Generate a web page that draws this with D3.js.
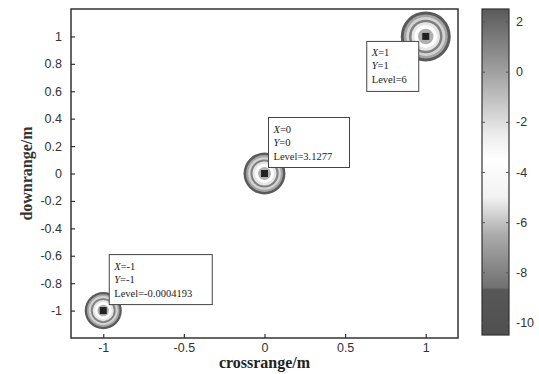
<!DOCTYPE html>
<html>
<head>
<meta charset="utf-8">
<script src="https://cdn.jsdelivr.net/npm/d3@7"></script>
<style>
  body { margin: 0; background: #fff; }
  svg { display: block; }
</style>
</head>
<body>
<div id="chart"></div>
<script>
// peak points and their datatip values
const peakX = [1, 0, -1];
const peakY = [1, 0, -1];
const peakLevel = ["6", "3.1277", "-0.0004193"];
const peakRadius = [0.155, 0.13, 0.115]; // ring radius in x units

// axis ticks
const xTicks = [-1, -0.5, 0, 0.5, 1];
const yTicks = [-1, -0.8, -0.6, -0.4, -0.2, 0, 0.2, 0.4, 0.6, 0.8, 1];
const cbTicks = [2, 0, -2, -4, -6, -8, -10];

// colormap stops (value -> gray)
const cmapValues = [2.5, 0, -2.5, -3.5, -5, -6.5, -8.6, -8.7, -10.5];
const cmapGrays = ["#5a5a5a", "#a0a0a0", "#ececec", "#ffffff", "#f2f2f2", "#ababab", "#717171", "#575757", "#505050"];

// ring bands (fraction of radius -> gray)
const ringFrac = [1.0, 0.88, 0.78, 0.67, 0.57, 0.45, 0.31];
const ringGray = ["#5a5a5a", "#a4a4a4", "#d4d4d4", "#808080", "#e6e6e6", "#ffffff", "#b0b0b0"];

const width = 539, height = 374;
const margin = {top: 9, left: 71, right: 81, bottom: 36};
const plotR = width - margin.right;      // 458
const plotB = height - margin.bottom;    // 338

const svg = d3.select("#chart").append("svg")
    .attr("width", width)
    .attr("height", height)
    .attr("font-family", "'Liberation Sans', Arial, sans-serif");

const x = d3.scaleLinear().domain([-1.2, 1.2]).range([margin.left, plotR]);
const y = d3.scaleLinear().domain([-1.2, 1.2]).range([plotB, margin.top]);
const fmt = d => String(+(+d).toFixed(1));

// rings
const peaks = peakX.map((d, i) => ({x: d, y: peakY[i], level: peakLevel[i], r: peakRadius[i]}));
const pg = svg.append("g");
peaks.forEach(p => {
  const rpx = x(p.r) - x(0);
  ringFrac.forEach((f, j) => {
    pg.append("circle")
      .attr("cx", x(p.x)).attr("cy", y(p.y))
      .attr("r", rpx * f)
      .attr("fill", ringGray[j]);
  });
  pg.append("rect")
    .attr("x", x(p.x) - 3.5).attr("y", y(p.y) - 3.5)
    .attr("width", 7).attr("height", 7)
    .attr("fill", "#222");
});

// axes (ticks inside, like matlab)
const xAxis = svg.append("g")
    .attr("transform", `translate(0,${plotB})`)
    .call(d3.axisBottom(x).tickValues(xTicks).tickSizeInner(-4).tickSizeOuter(0).tickPadding(5)
      .tickFormat(fmt));
const yAxis = svg.append("g")
    .attr("transform", `translate(${margin.left},0)`)
    .call(d3.axisLeft(y).tickValues(yTicks).tickSizeInner(-4).tickSizeOuter(0).tickPadding(9)
      .tickFormat(fmt));
[xAxis, yAxis].forEach(a => {
  a.select(".domain").remove();
  a.selectAll(".tick line").attr("stroke", "#333").attr("stroke-width", 1.2);
  a.selectAll(".tick text").attr("fill", "#333").attr("font-size", 12.5);
});

// plot box
svg.append("rect")
    .attr("x", margin.left).attr("y", margin.top)
    .attr("width", plotR - margin.left).attr("height", plotB - margin.top)
    .attr("fill", "none").attr("stroke", "#333").attr("stroke-width", 1.5);

// datatips
const tipPlace = [{dx: -59, dy: 5}, {dx: 4, dy: -56}, {dx: 6, dy: -56}];
const tipW = [52, 81, 103];
peaks.forEach((p, i) => {
  const bx = x(p.x) + tipPlace[i].dx, by = y(p.y) + tipPlace[i].dy;
  const g = svg.append("g").attr("transform", `translate(${bx},${by})`)
      .attr("font-family", "'Liberation Serif', 'Times New Roman', serif")
      .attr("font-size", 10.5).attr("fill", "#222");
  g.append("rect").attr("width", tipW[i]).attr("height", 50)
      .attr("fill", "#fff").attr("stroke", "#444").attr("stroke-width", 1);
  const l1 = g.append("text").attr("x", 5).attr("y", 15);
  l1.append("tspan").attr("font-style", "italic").text("X");
  l1.append("tspan").text("=" + p.x);
  const l2 = g.append("text").attr("x", 5).attr("y", 28);
  l2.append("tspan").attr("font-style", "italic").text("Y");
  l2.append("tspan").text("=" + p.y);
  g.append("text").attr("x", 5).attr("y", 42).text("Level=" + p.level);
});

// axis titles
svg.append("text")
    .attr("x", x(0)).attr("y", 368)
    .attr("text-anchor", "middle")
    .attr("font-family", "'Liberation Serif', 'Times New Roman', serif")
    .attr("font-weight", "bold").attr("font-size", 16).attr("fill", "#222")
    .text("crossrange/m");
svg.append("text")
    .attr("transform", `translate(32,${y(0)}) rotate(-90)`)
    .attr("text-anchor", "middle")
    .attr("font-family", "'Liberation Serif', 'Times New Roman', serif")
    .attr("font-weight", "bold").attr("font-size", 16).attr("fill", "#333")
    .text("downrange/m");

// colorbar
const cbX = 482, cbW = 27;
const cy = d3.scaleLinear().domain([-10.5, 2.5]).range([335, 9]);
const cmap = d3.scaleLinear().domain(cmapValues).range(cmapGrays);
const defs = svg.append("defs");
const grad = defs.append("linearGradient").attr("id", "cb")
    .attr("x1", 0).attr("y1", 1).attr("x2", 0).attr("y2", 0);
cmapValues.slice().reverse().forEach(v => {
  grad.append("stop")
    .attr("offset", (v - (-10.5)) / 13)
    .attr("stop-color", cmap(v));
});
svg.append("rect")
    .attr("x", cbX).attr("y", cy(2.5))
    .attr("width", cbW).attr("height", cy(-10.5) - cy(2.5))
    .attr("fill", "url(#cb)").attr("stroke", "#333").attr("stroke-width", 1.2);
const cbAxis = svg.append("g")
    .attr("transform", `translate(${cbX + cbW},0)`)
    .call(d3.axisRight(cy).tickValues(cbTicks).tickSizeInner(-3).tickSizeOuter(0).tickPadding(7)
      .tickFormat(fmt));
cbAxis.select(".domain").remove();
cbAxis.selectAll(".tick line").attr("stroke", "#555");
cbAxis.selectAll(".tick text").attr("fill", "#333").attr("font-size", 12.5);
cbAxis.selectAll(".tick").append("line")
    .attr("x1", -cbW).attr("x2", -cbW + 3).attr("stroke", "#555");
</script>
</body>
</html>
